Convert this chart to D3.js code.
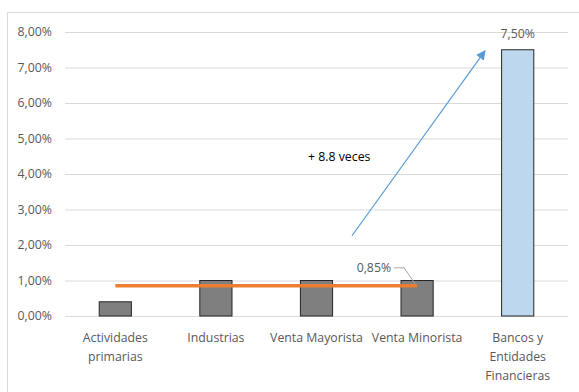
<!DOCTYPE html>
<html>
<head>
<meta charset="utf-8">
<script src="https://cdn.jsdelivr.net/npm/d3@7"></script>
<style>
  body { margin: 0; background: #fff; }
  svg text { font-family: "Open Sans", "Noto Sans", sans-serif; fill: #595959; }
</style>
</head>
<body>
<div id="chart-area"></div>
<script>
// SVG Size
var width = 579,
	height = 392;

// data
var categories = ["Actividades primarias", "Industrias", "Venta Mayorista", "Venta Minorista", "Bancos y Entidades Financieras"];
var catLines = [["Actividades", "primarias"], ["Industrias"], ["Venta Mayorista"], ["Venta Minorista"], ["Bancos y", "Entidades", "Financieras"]];
var values = [0.004, 0.01, 0.01, 0.01, 0.075];
var averageValue = 0.0085;
var averageCats = categories.slice(0, 4);
var yTicks = [0, 0.01, 0.02, 0.03, 0.04, 0.05, 0.06, 0.07, 0.08];

var margin = {left: 65, right: 11, top: 32, bottom: 76};
var fontSize = 12.3;

var svg = d3.select("#chart-area")
	.append("svg")
	.attr("width", width)
	.attr("height", height);

// chart border
svg.append("rect")
	.attr("x", 7.5).attr("y", 12.5)
	.attr("width", width + 10).attr("height", height + 10)
	.attr("fill", "none")
	.attr("stroke", "#d9d9d9");

var x = d3.scaleBand()
	.domain(categories)
	.range([margin.left, width - margin.right])
	.paddingInner(0.68)
	.paddingOuter(0.34);

var y = d3.scaleLinear()
	.domain([0, 0.08])
	.range([height - margin.bottom, margin.top]);

var fmt = function(d) { return d3.format(".2f")(d * 100).replace(".", ",") + "%"; };

// y axis with gridlines
var yAxis = d3.axisLeft(y)
	.tickValues(yTicks)
	.tickSize(-(width - margin.right - margin.left))
	.tickPadding(13)
	.tickFormat(fmt);

svg.append("g")
	.attr("class", "axis y-axis")
	.attr("transform", "translate(" + margin.left + ",0)")
	.call(yAxis)
	.call(function(g) {
		g.select(".domain").remove();
		g.selectAll(".tick line").attr("stroke", "#d9d9d9");
		g.selectAll(".tick text").attr("font-size", fontSize).attr("fill", "#595959");
	});

// bars
svg.selectAll("rect.bar")
	.data(values)
	.enter()
	.append("rect")
	.attr("class", "bar")
	.attr("x", function(d, i) { return x(categories[i]); })
	.attr("y", function(d) { return y(d); })
	.attr("width", x.bandwidth())
	.attr("height", function(d) { return y(0) - y(d); })
	.attr("fill", function(d, i) { return i == 4 ? "#bdd7ee" : "#7f7f7f"; })
	.attr("stroke", "#262626")
	.attr("stroke-width", 1);

// x labels
var xl = svg.append("g").attr("class", "x-labels");
catLines.forEach(function(lines, i) {
	var t = xl.append("text")
		.attr("text-anchor", "middle")
		.attr("font-size", fontSize)
		.attr("x", x(categories[i]) + x.bandwidth() / 2)
		.attr("y", y(0) + 26);
	lines.forEach(function(l, j) {
		t.append("tspan")
			.attr("x", x(categories[i]) + x.bandwidth() / 2)
			.attr("dy", j == 0 ? 0 : 19)
			.text(l);
	});
});

// average line
var line = d3.line()
	.x(function(d) { return x(d) + x.bandwidth() / 2; })
	.y(function() { return y(averageValue); });

svg.append("path")
	.datum(averageCats)
	.attr("d", line)
	.attr("fill", "none")
	.attr("stroke", "#ed7d31")
	.attr("stroke-width", 3.5);

// label for average
var lastX = x(averageCats[3]) + x.bandwidth() / 2;
svg.append("path")
	.attr("d", "M" + (lastX - 23) + "," + (y(averageValue) - 18) + "h10l" + 11 + "," + 16)
	.attr("fill", "none")
	.attr("stroke", "#a6a6a6");

svg.append("text")
	.attr("x", lastX - 26)
	.attr("y", y(averageValue) - 14)
	.attr("text-anchor", "end")
	.attr("font-size", fontSize)
	.text(fmt(averageValue));

// label for bank bar
svg.append("text")
	.attr("x", x(categories[4]) + x.bandwidth() / 2)
	.attr("y", y(values[4]) - 12)
	.attr("text-anchor", "middle")
	.attr("font-size", fontSize)
	.text(fmt(values[4]));

// arrow
svg.append("defs").append("marker")
	.attr("id", "arrow")
	.attr("viewBox", "0 0 10 10")
	.attr("refX", 9).attr("refY", 5)
	.attr("markerWidth", 8).attr("markerHeight", 8)
	.attr("orient", "auto")
	.append("path")
	.attr("d", "M0,0L10,5L0,10z")
	.attr("fill", "#5b9bd5");

svg.append("line")
	.attr("x1", 352).attr("y1", y(0.0226))
	.attr("x2", 485).attr("y2", y(0.0747))
	.attr("stroke", "#5b9bd5")
	.attr("stroke-width", 1.2)
	.attr("marker-end", "url(#arrow)");

svg.append("text")
	.attr("x", 308)
	.attr("y", 161)
	.attr("font-size", fontSize)
	.style("fill", "#000")
	.text("+ 8.8 veces");
</script>
</body>
</html>
